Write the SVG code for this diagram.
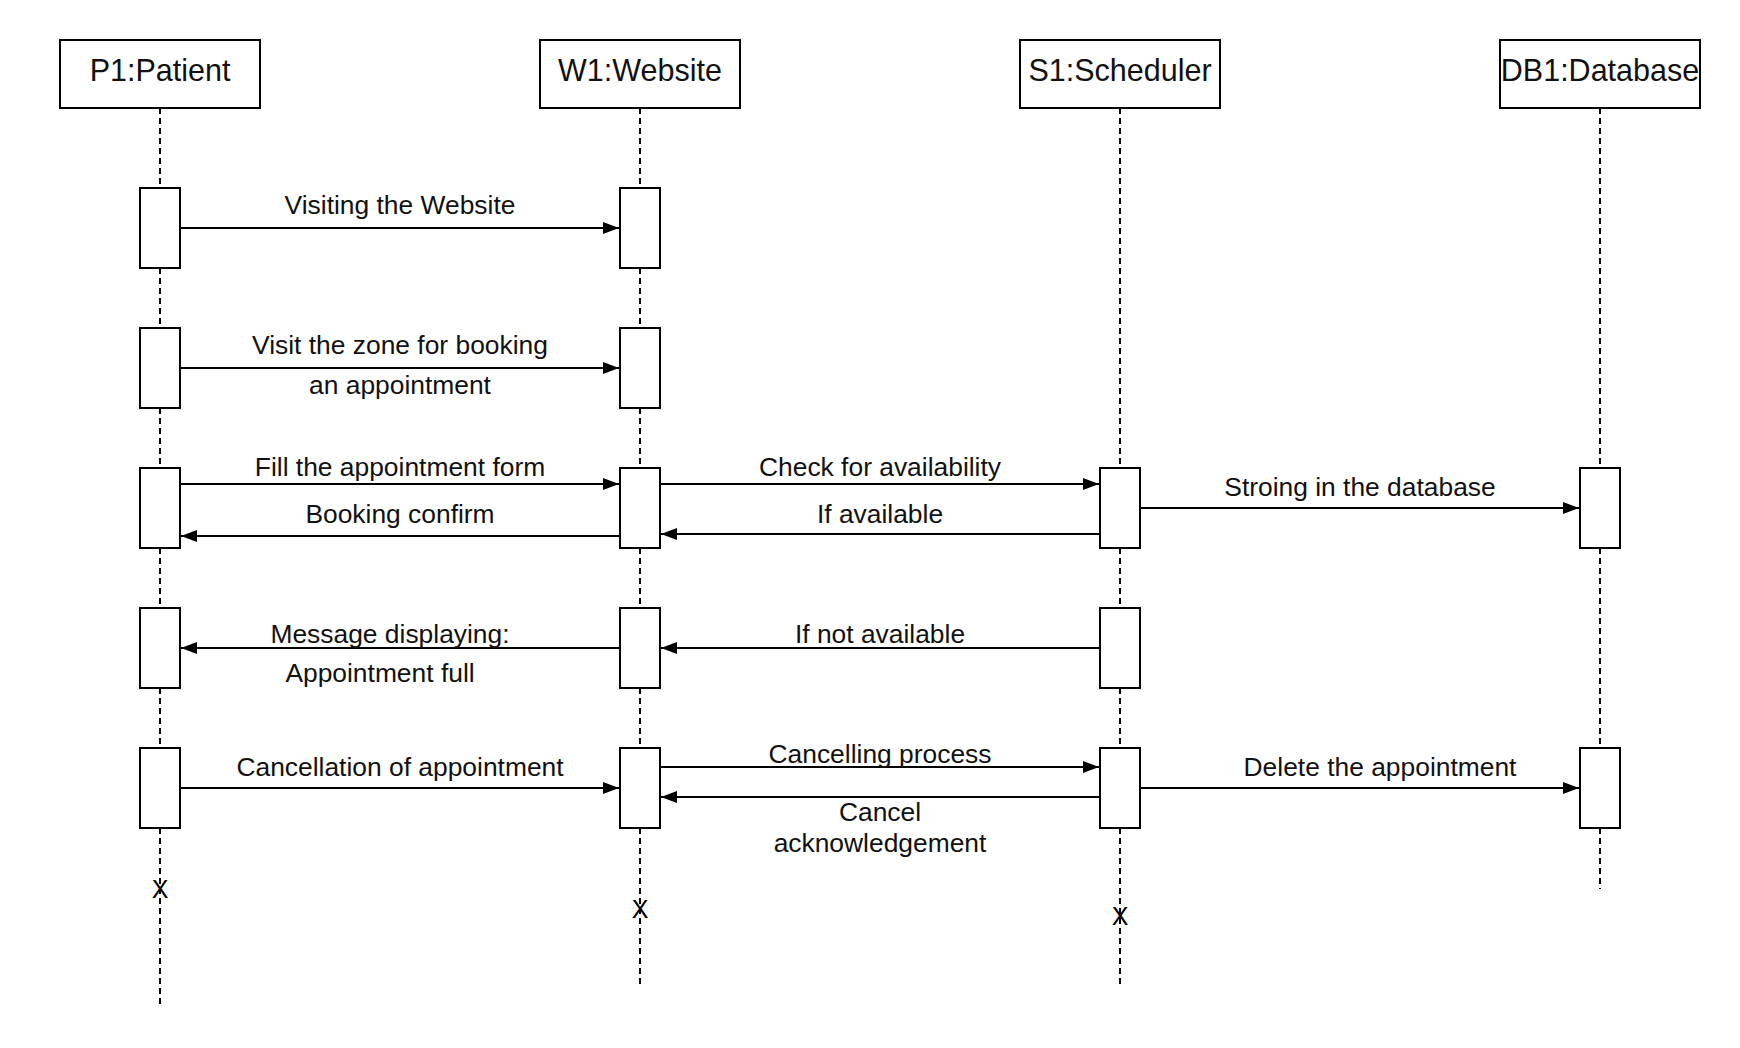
<svg xmlns="http://www.w3.org/2000/svg" width="1740" height="1048" viewBox="0 0 1740 1048">
<style>
.hdr{fill:#fff;stroke:#000;stroke-width:2}
.act{fill:#fff;stroke:#000;stroke-width:2}
.life{stroke:#000;stroke-width:2;stroke-dasharray:6 4;fill:none}
.ht{font-family:"Liberation Sans",Arial,sans-serif;font-size:30.5px;fill:#111;text-anchor:middle}
.mt{font-family:"Liberation Sans",Arial,sans-serif;font-size:26.4px;fill:#111;text-anchor:middle}
.xm{font-family:"Liberation Sans",Arial,sans-serif;font-size:25px;fill:#000;text-anchor:middle}
.msg{stroke:#000;stroke-width:2;fill:none;marker-end:url(#ah)}
</style>
<defs>
<marker id="ah" viewBox="0 0 16 12" refX="16" refY="6" markerWidth="16" markerHeight="12" markerUnits="userSpaceOnUse" orient="auto">
<path d="M0,0 L16,6 L0,12 Z" fill="#000"/>
</marker>
</defs>
<rect width="1740" height="1048" fill="#fff"/>

<g id="P1">
<line class="life" x1="160" y1="108" x2="160" y2="1007"/>
<rect class="hdr" x="60" y="40" width="200" height="68"/>
<text class="ht" x="160" y="81">P1:Patient</text>
<rect class="act" x="140" y="188" width="40" height="80"/>
<rect class="act" x="140" y="328" width="40" height="80"/>
<rect class="act" x="140" y="468" width="40" height="80"/>
<rect class="act" x="140" y="608" width="40" height="80"/>
<rect class="act" x="140" y="748" width="40" height="80"/>
<text class="xm" x="160" y="898">X</text>
</g>

<g id="W1">
<line class="life" x1="640" y1="108" x2="640" y2="987"/>
<rect class="hdr" x="540" y="40" width="200" height="68"/>
<text class="ht" x="640" y="81">W1:Website</text>
<rect class="act" x="620" y="188" width="40" height="80"/>
<rect class="act" x="620" y="328" width="40" height="80"/>
<rect class="act" x="620" y="468" width="40" height="80"/>
<rect class="act" x="620" y="608" width="40" height="80"/>
<rect class="act" x="620" y="748" width="40" height="80"/>
<text class="xm" x="640" y="918">X</text>
</g>

<g id="S1">
<line class="life" x1="1120" y1="108" x2="1120" y2="987"/>
<rect class="hdr" x="1020" y="40" width="200" height="68"/>
<text class="ht" x="1120" y="81">S1:Scheduler</text>
<rect class="act" x="1100" y="468" width="40" height="80"/>
<rect class="act" x="1100" y="608" width="40" height="80"/>
<rect class="act" x="1100" y="748" width="40" height="80"/>
<text class="xm" x="1120" y="925">X</text>
</g>

<g id="DB1">
<line class="life" x1="1600" y1="108" x2="1600" y2="889"/>
<rect class="hdr" x="1500" y="40" width="200" height="68"/>
<text class="ht" x="1600" y="81">DB1:Database</text>
<rect class="act" x="1580" y="468" width="40" height="80"/>
<rect class="act" x="1580" y="748" width="40" height="80"/>
</g>

<g id="connectors">
<line class="msg" x1="180" y1="228" x2="619" y2="228"/>
<text class="mt" x="400" y="214">Visiting the Website</text>

<line class="msg" x1="180" y1="368" x2="619" y2="368"/>
<text class="mt" x="400" y="354">Visit the zone for booking</text>
<text class="mt" x="400" y="394">an appointment</text>

<line class="msg" x1="180" y1="484" x2="619" y2="484"/>
<text class="mt" x="400" y="476">Fill the appointment form</text>
<line class="msg" x1="620" y1="536" x2="181" y2="536"/>
<text class="mt" x="400" y="523">Booking confirm</text>

<line class="msg" x1="660" y1="484" x2="1099" y2="484"/>
<text class="mt" x="880" y="476">Check for availability</text>
<line class="msg" x1="1100" y1="534" x2="661" y2="534"/>
<text class="mt" x="880" y="523">If available</text>

<line class="msg" x1="1140" y1="508" x2="1579" y2="508"/>
<text class="mt" x="1360" y="496">Stroing in the database</text>

<line class="msg" x1="620" y1="648" x2="181" y2="648"/>
<text class="mt" x="390" y="643">Message displaying:</text>
<text class="mt" x="380" y="682">Appointment full</text>
<line class="msg" x1="1100" y1="648" x2="661" y2="648"/>
<text class="mt" x="880" y="643">If not available</text>

<line class="msg" x1="180" y1="788" x2="619" y2="788"/>
<text class="mt" x="400" y="776">Cancellation of appointment</text>
<line class="msg" x1="660" y1="767" x2="1099" y2="767"/>
<text class="mt" x="880" y="763">Cancelling process</text>
<line class="msg" x1="1100" y1="797" x2="661" y2="797"/>
<text class="mt" x="880" y="821">Cancel</text>
<text class="mt" x="880" y="852">acknowledgement</text>
<line class="msg" x1="1140" y1="788" x2="1579" y2="788"/>
<text class="mt" x="1380" y="776">Delete the appointment</text>
</g>
</svg>
